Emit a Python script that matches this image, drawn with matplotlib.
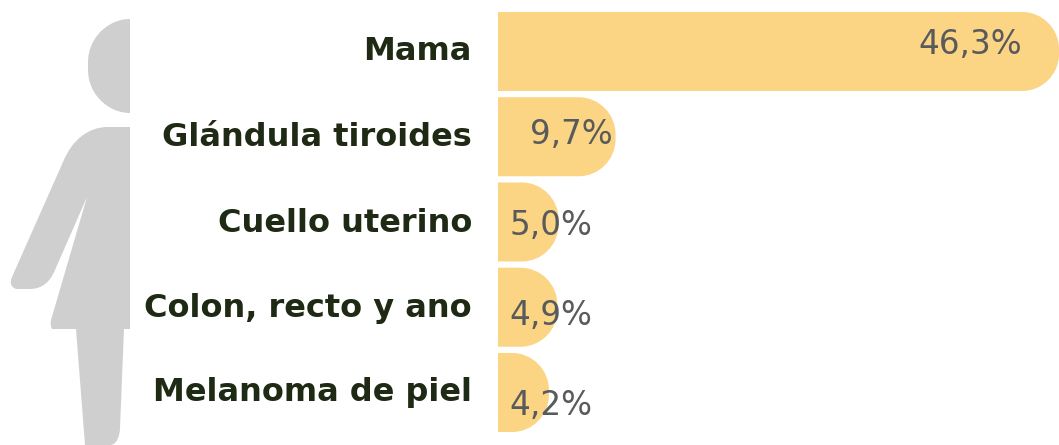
import matplotlib
matplotlib.use("Agg")
import matplotlib.pyplot as plt
from matplotlib.path import Path
from matplotlib.patches import PathPatch

# data
categories = ["Mama", "Glándula tiroides", "Cuello uterino", "Colon, recto y ano", "Melanoma de piel"]
values = [46.3, 9.7, 5.0, 4.9, 4.2]
value_labels = ["46,3%", "9,7%", "5,0%", "4,9%", "4,2%"]

BAR_COLOR = "#FBD484"
LABEL_COLOR = "#1E2A14"
VALUE_COLOR = "#585A5C"
ICON_COLOR = "#CFCFCF"

W, H = 1059, 445
X0 = 498
PX_PER_UNIT = (W - X0) / values[0]
RADIUS = 37  # px


def rounded_bar(ax, y, value, height):
    # bar with only the right corners rounded
    rx = RADIUS / PX_PER_UNIT
    ry = RADIUS / 85.25
    k = 0.5523
    top, bot = y - height / 2, y + height / 2
    verts = [
        (0, top), (value - rx, top),
        (value - rx + k * rx, top), (value, top + ry - k * ry), (value, top + ry),
        (value, bot - ry),
        (value, bot - ry + k * ry), (value - rx + k * rx, bot), (value - rx, bot),
        (0, bot), (0, top),
    ]
    codes = [Path.MOVETO, Path.LINETO,
             Path.CURVE4, Path.CURVE4, Path.CURVE4,
             Path.LINETO,
             Path.CURVE4, Path.CURVE4, Path.CURVE4,
             Path.LINETO, Path.CLOSEPOLY]
    ax.add_patch(PathPatch(Path(verts, codes), facecolor=BAR_COLOR, edgecolor="none"))


fig = plt.figure(figsize=(W / 100, H / 100), dpi=100)

# half person icon, in pixel coordinates
icon = fig.add_axes([0, 0, 1, 1])
icon.set_xlim(0, W)
icon.set_ylim(H, 0)
icon.axis("off")

head = [(130, 19), (108, 19), (88, 38), (88, 62), (88, 70), (88, 94), (108, 113), (130, 113), (130, 19)]
head_codes = [Path.MOVETO, Path.CURVE4, Path.CURVE4, Path.CURVE4, Path.LINETO,
              Path.CURVE4, Path.CURVE4, Path.CURVE4, Path.CLOSEPOLY]
icon.add_patch(PathPatch(Path(head, head_codes), facecolor=ICON_COLOR, edgecolor="none"))

body = [(130, 127), (108, 127), (88, 127), (72, 140), (63, 162), (12, 277), (8, 286), (16, 289), (18, 289),
        (30, 289), (42, 289), (50, 282), (55, 270), (87, 197), (51, 320), (50, 326), (52, 329), (56, 329),
        (76, 329), (85, 445), (110, 445), (117, 445), (120, 435), (120, 428), (124, 329), (130, 329), (130, 127)]
body_codes = [Path.MOVETO, Path.LINETO, Path.CURVE4, Path.CURVE4, Path.CURVE4, Path.LINETO,
              Path.CURVE3, Path.CURVE3, Path.LINETO, Path.LINETO, Path.CURVE4, Path.CURVE4, Path.CURVE4,
              Path.LINETO, Path.LINETO, Path.CURVE3, Path.CURVE3, Path.LINETO,
              Path.LINETO, Path.LINETO, Path.LINETO, Path.CURVE4, Path.CURVE4, Path.CURVE4,
              Path.LINETO, Path.LINETO, Path.CLOSEPOLY]
icon.add_patch(PathPatch(Path(body, body_codes), facecolor=ICON_COLOR, edgecolor="none"))

# category labels sit a little tighter than the bars
label_y = [52, 137, 223, 308, 393]
for name, ly in zip(categories, label_y):
    icon.text(472, ly, name, ha="right", va="center", fontsize=23, fontweight="bold",
              family="DejaVu Sans", color=LABEL_COLOR)

# bars
ax = fig.add_axes([X0 / W, 0, 1 - X0 / W, 1])
ax.set_xlim(0, values[0])
ax.set_ylim(4.616, -0.604)
ax.axis("off")
ax.patch.set_alpha(0)

for i, v in enumerate(values):
    rounded_bar(ax, i, v, 0.927)

# value labels: offset in pixels from the bar end or bar start
value_offsets = [(-37, 6.5), (-3, 1.75), (11, -4), (11, -8.75), (11, -13.5)]
anchors = ["right", "right", "left", "left", "left"]
for i, (txt, off, ha) in enumerate(zip(value_labels, value_offsets, anchors)):
    x = values[i] if ha == "right" else 0
    ax.annotate(txt, (x, i), xytext=off, textcoords="offset pixels", ha=ha, va="center",
                fontsize=23.5, family="DejaVu Sans", color=VALUE_COLOR, clip_on=False)

fig.savefig("out.png", dpi=100, facecolor="white")
